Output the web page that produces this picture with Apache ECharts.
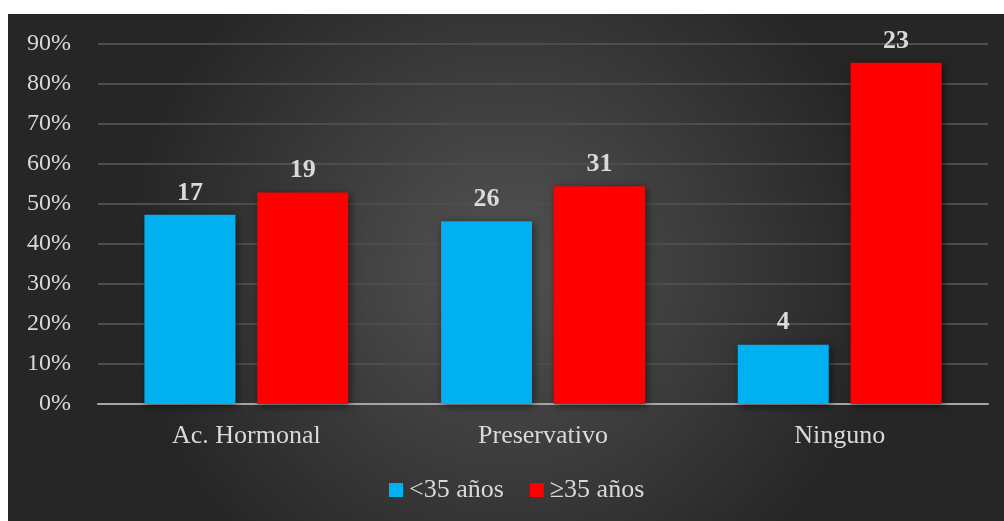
<!DOCTYPE html>
<html>
<head>
<meta charset="utf-8">
<script src="https://cdn.jsdelivr.net/npm/echarts@6/dist/echarts.min.js"></script>
<style>
  html, body { margin: 0; padding: 0; background: #ffffff; }
  #chart { position: absolute; left: 8px; top: 14px; width: 996px; height: 507px; }
</style>
</head>
<body>
<div id="chart"></div>
<script>
// Contraceptive method by age group: counts per group
const categories = ['Ac. Hormonal', 'Preservativo', 'Ninguno'];
const seriesNames = ['<35 años', '≥35 años'];
const countsUnder35 = [17, 26, 4];
const countsOver35 = [19, 31, 23];
const yTicks = [0, 10, 20, 30, 40, 50, 60, 70, 80, 90];

// Share of each age group within its category (percent)
const totals = categories.map((_, i) => countsUnder35[i] + countsOver35[i]);
const pctUnder35 = countsUnder35.map((c, i) => c / totals[i] * 100);
const pctOver35 = countsOver35.map((c, i) => c / totals[i] * 100);

const textColor = '#d9d9d9';
const fontFamily = '"Liberation Serif", "Times New Roman", serif';

function makeSeries(name, pct, counts, color) {
  return {
    name: name,
    type: 'bar',
    barWidth: 91,
    barGap: '24%',
    data: pct.map((v, i) => ({ value: v, count: counts[i] })),
    itemStyle: {
      color: color,
      shadowBlur: 8,
      shadowColor: 'rgba(0,0,0,0.55)',
      shadowOffsetX: 2,
      shadowOffsetY: 2
    },
    label: {
      show: true,
      position: 'top',
      distance: 9,
      color: textColor,
      fontFamily: fontFamily,
      fontWeight: 'bold',
      fontSize: 26,
      formatter: p => String(p.data.count)
    }
  };
}

const chart = echarts.init(document.getElementById('chart'));
chart.setOption({
  animation: false,
  backgroundColor: {
    type: 'radial', x: 0.5, y: 0.5, r: 0.75,
    colorStops: [
      { offset: 0, color: '#535353' },
      { offset: 1, color: '#262626' }
    ]
  },
  textStyle: { fontFamily: fontFamily },
  grid: { left: 90, right: 16, top: 29.5, bottom: 117 },
  legend: {
    data: seriesNames,
    top: 463,
    left: 381,
    padding: 0,
    itemWidth: 14,
    itemHeight: 14,
    itemGap: 26,
    icon: 'rect',
    textStyle: { color: textColor, fontSize: 26, fontFamily: fontFamily, padding: [0, 0, 0, 1] }
  },
  xAxis: {
    type: 'category',
    data: categories,
    axisTick: { show: false },
    axisLine: { lineStyle: { color: '#a6a6a6', width: 2 } },
    axisLabel: { color: textColor, fontSize: 26, margin: 19, fontFamily: fontFamily }
  },
  yAxis: {
    type: 'value',
    min: yTicks[0],
    max: yTicks[yTicks.length - 1],
    interval: 10,
    axisLine: { show: false },
    axisTick: { show: false },
    splitLine: { lineStyle: { color: '#4d4d4d', width: 2 } },
    axisLabel: {
      color: textColor, fontSize: 24, margin: 27, fontFamily: fontFamily,
      formatter: v => v + '%'
    }
  },
  series: [
    makeSeries(seriesNames[0], pctUnder35, countsUnder35, '#00b0f0'),
    makeSeries(seriesNames[1], pctOver35, countsOver35, '#ff0000')
  ]
});
</script>
</body>
</html>
